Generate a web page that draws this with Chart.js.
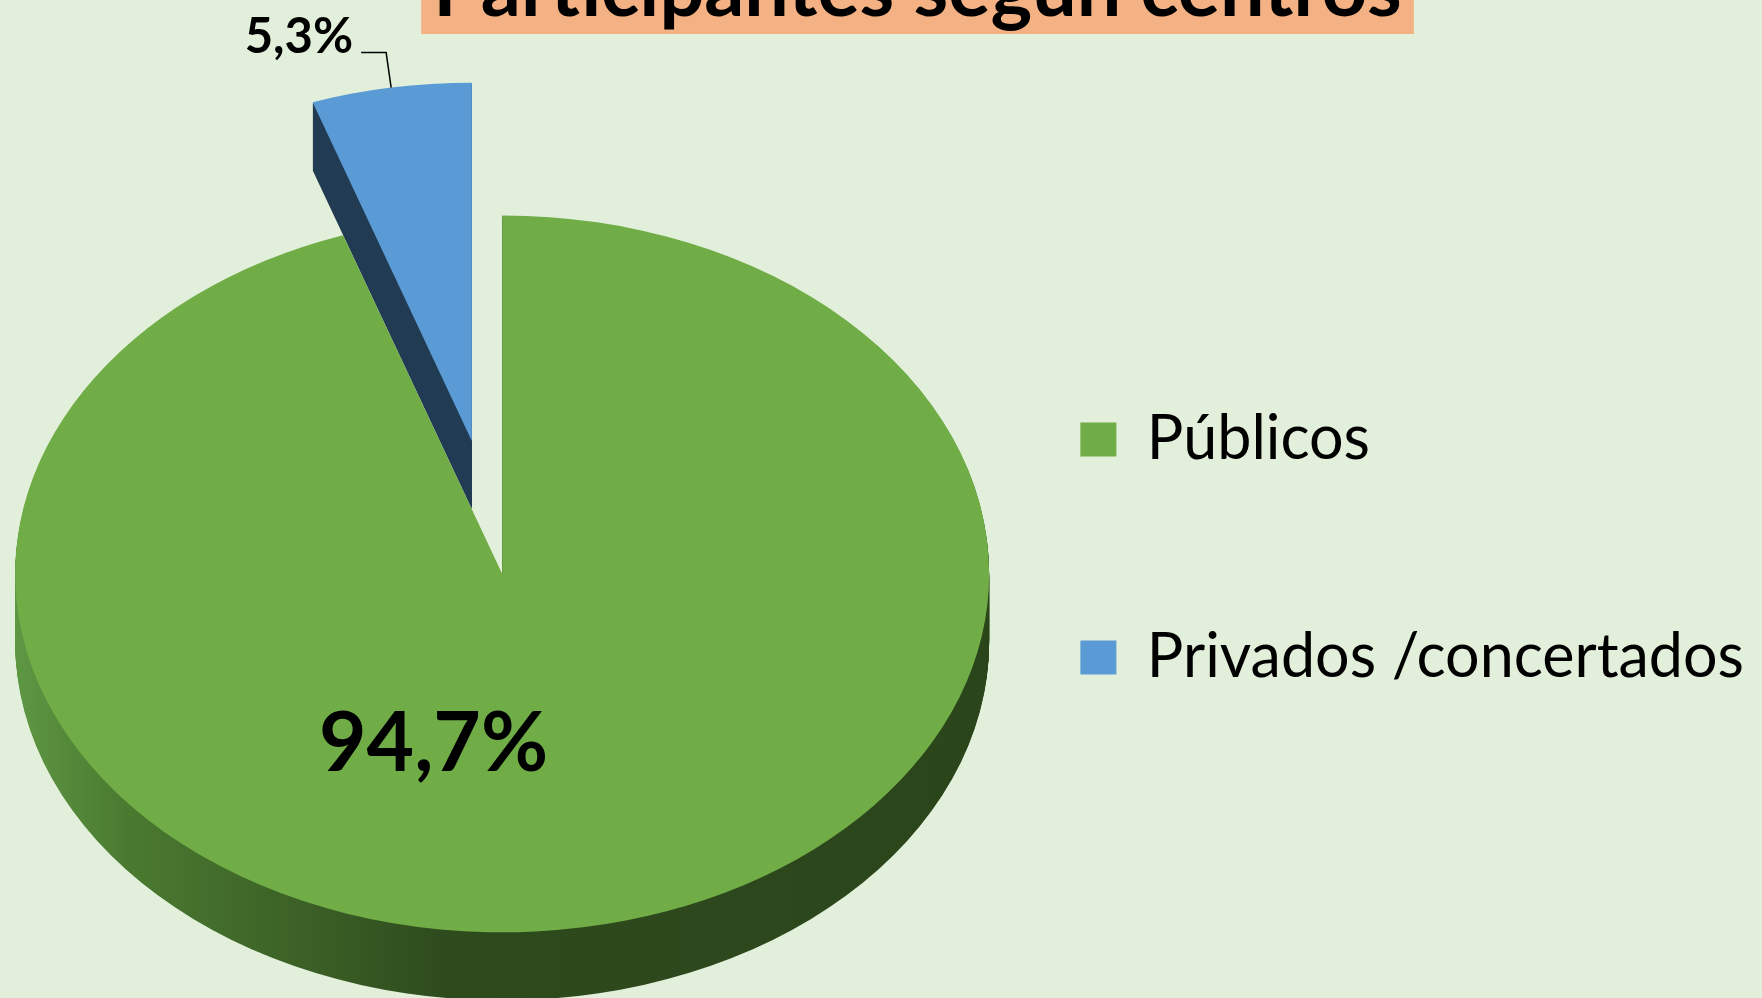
<!DOCTYPE html>
<html><head><meta charset="utf-8">
<script src="https://cdn.jsdelivr.net/npm/chart.js@4.4.1/dist/chart.umd.min.js"></script>
<style>html,body{margin:0;padding:0;background:#E2EFDA;overflow:hidden}canvas{display:block}</style>
</head><body>
<canvas id="c" width="1762" height="998"></canvas>
<script>
// ---- data ----
const titleText = 'Participantes según centros';
const categories = ['Públicos', 'Privados /concertados'];
const shares = [94.7, 5.3];

// ---- styles ----
const FONT = 'Lato, "Open Sans", sans-serif';
const sliceColors = ['#70AD47', '#5B9BD5'];
const sideColors = [
  [[0, '#5e9743'], [0.115, '#4a7a30'], [0.31, '#3a5e25'], [0.44, '#2e4b1d'], [1, '#2b451b']],
  '#223c54'
];
const explodeBy = [0, 183];
const labelStyles = [
  { mode: 'inside', font: 'bold 82px ' + FONT, shiftX: -109, shiftY: -6 },
  { mode: 'outside', font: 'bold 49px ' + FONT, rise: 35, lean: -5, run: 25, gap: 8, textDy: 0 }
];

const backgroundPlugin = {
  id: 'bgTitle',
  beforeDraw(chart, args, o) {
    const { ctx, width, height } = chart;
    ctx.save();
    ctx.fillStyle = o.background;
    ctx.fillRect(0, 0, width, height);
    const t = chart.titleBlock;
    if (t && t.options.display) {
      const f = t.options.font;
      ctx.font = (f.weight || '') + ' ' + f.size + 'px ' + f.family;
      const w = ctx.measureText(t.options.text).width;
      const cx = (t.left + t.right) / 2;
      ctx.fillStyle = o.titleBackground;
      ctx.fillRect(cx - w / 2 - o.titlePadX, t.top, w + 2 * o.titlePadX, o.titleBoxHeight);
    }
    ctx.restore();
  }
};

const pie3dPlugin = {
  id: 'pie3d',
  beforeDatasetsDraw(chart, args, o) {
    const meta = chart.getDatasetMeta(0);
    const arcs = meta.data;
    if (!arcs.length) return;
    const ctx = chart.ctx;
    const ds = chart.data.datasets[0];
    const cy = arcs[0].y;
    const k = o.tilt;
    const items = arcs.map((a, i) => {
      const mid = (a.startAngle + a.endAngle) / 2;
      const ex = o.explode[i] || 0;
      return { a, i, mid, dx: Math.cos(mid) * ex, dy: Math.sin(mid) * ex };
    });
    items.sort((u, v) => (u.dy + Math.sin(u.mid) * u.a.outerRadius) - (v.dy + Math.sin(v.mid) * v.a.outerRadius));
    const setT = (d, it) => {
      ctx.translate(0, d);
      ctx.translate(0, cy); ctx.scale(1, k); ctx.translate(0, -cy);
      ctx.translate(it.dx, it.dy);
    };
    const toScreen = (x, y) => ({ x: x, y: cy + (y - cy) * k });

    items.forEach(it => {
      const a = it.a;
      const path = new Path2D();
      path.moveTo(a.x, a.y);
      path.arc(a.x, a.y, a.outerRadius, a.startAngle, a.endAngle);
      path.closePath();
      const sc = o.sideColors[it.i];
      let fill = sc;
      if (Array.isArray(sc)) {
        fill = ctx.createLinearGradient(a.x - a.outerRadius, 0, a.x + a.outerRadius, 0);
        sc.forEach(s => fill.addColorStop(s[0], s[1]));
      }
      for (let d = o.depth; d >= 1; d--) {
        ctx.save(); setT(d, it); ctx.fillStyle = fill; ctx.fill(path); ctx.restore();
      }
      ctx.save(); setT(0, it); a.draw(ctx); ctx.restore();
    });

    items.forEach(it => {
      const a = it.a;
      const st = o.labels[it.i];
      const text = ds.data[it.i].toFixed(1).replace('.', ',') + '%';
      ctx.save();
      ctx.fillStyle = o.labelColor;
      ctx.strokeStyle = o.labelColor;
      ctx.font = st.font;
      if (st.mode === 'inside') {
        const c = a.getCenterPoint();
        const s = toScreen(c.x + it.dx, c.y + it.dy);
        ctx.textAlign = 'center';
        ctx.textBaseline = 'middle';
        ctx.fillText(text, s.x + st.shiftX, s.y + st.shiftY);
      } else {
        const s = toScreen(a.x + it.dx + Math.cos(it.mid) * a.outerRadius,
                           a.y + it.dy + Math.sin(it.mid) * a.outerRadius);
        const p1 = { x: s.x + st.lean, y: s.y - st.rise };
        const p2 = { x: p1.x - st.run, y: p1.y };
        ctx.lineWidth = 1.5;
        ctx.beginPath();
        ctx.moveTo(s.x, s.y); ctx.lineTo(p1.x, p1.y); ctx.lineTo(p2.x, p2.y);
        ctx.stroke();
        ctx.textAlign = 'right';
        ctx.textBaseline = 'alphabetic';
        ctx.fillText(text, p2.x - st.gap, p2.y + st.textDy);
      }
      ctx.restore();
    });
    return false;
  }
};

new Chart(document.getElementById('c'), {
  type: 'pie',
  data: {
    labels: categories,
    datasets: [{
      data: shares,
      backgroundColor: sliceColors,
      borderWidth: 0,
      radius: 487
    }]
  },
  plugins: [backgroundPlugin, pie3dPlugin],
  options: {
    responsive: false,
    animation: false,
    devicePixelRatio: 1,
    events: [],
    layout: { padding: { left: 81, right: 8, top: 0, bottom: -99 } },
    plugins: {
      tooltip: { enabled: false },
      title: {
        display: true,
        text: titleText,
        color: '#000',
        font: { family: FONT, size: 79, weight: 'bold' },
        padding: { top: -57, bottom: 112 }
      },
      legend: {
        position: 'right',
        fullSize: true,
        labels: {
          boxWidth: 36, boxHeight: 34, padding: 157,
          color: '#000',
          font: { family: FONT, size: 61 }
        }
      },
      bgTitle: { background: '#E2EFDA', titleBackground: '#F4B183', titlePadX: 12, titleBoxHeight: 34 },
      pie3d: {
        tilt: 0.736, depth: 68, explode: explodeBy, sideColors: sideColors,
        labels: labelStyles, labelColor: '#000'
      }
    }
  }
});
</script>
</body></html>
